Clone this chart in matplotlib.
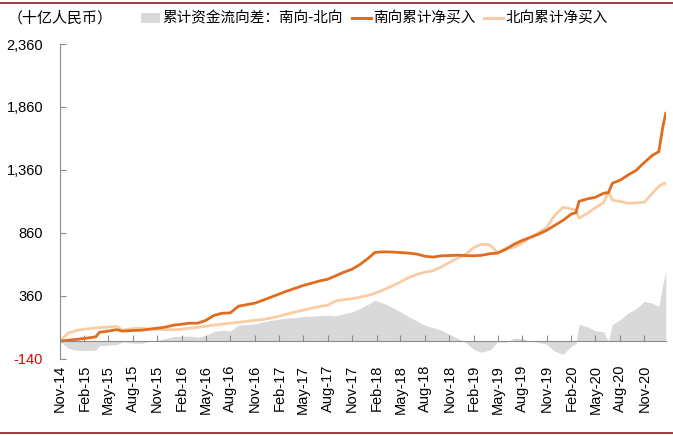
import matplotlib
matplotlib.use("Agg")
import matplotlib.pyplot as plt
import matplotlib.dates as mdates
from matplotlib.patches import Patch
from matplotlib.lines import Line2D
import numpy as np
import pandas as pd

plt.rcParams['font.family'] = ['Liberation Sans', 'Noto Sans CJK SC', 'DejaVu Sans']

# 十亿人民币
dates = ["2014-11-17", "2014-12-17", "2015-01-17", "2015-02-17", "2015-03-17",
         "2015-04-01", "2015-04-14", "2015-05-17", "2015-06-17", "2015-07-10",
         "2015-08-17", "2015-09-17", "2015-10-17", "2015-11-17", "2015-12-17",
         "2016-01-17", "2016-02-17", "2016-03-17", "2016-04-17", "2016-05-17",
         "2016-06-17", "2016-07-17", "2016-08-17", "2016-09-17", "2016-10-17",
         "2016-11-17", "2016-12-17", "2017-01-17", "2017-02-17", "2017-03-17",
         "2017-04-17", "2017-05-17", "2017-06-17", "2017-07-17", "2017-08-17",
         "2017-09-17", "2017-10-17", "2017-11-17", "2017-12-17", "2018-01-17",
         "2018-02-10", "2018-03-17", "2018-04-17", "2018-05-17", "2018-06-17",
         "2018-07-17", "2018-08-17", "2018-09-17", "2018-10-17", "2018-11-17",
         "2018-12-17", "2019-01-17", "2019-02-17", "2019-03-17", "2019-04-17",
         "2019-05-17", "2019-06-17", "2019-07-17", "2019-08-17", "2019-09-17",
         "2019-10-17", "2019-11-17", "2019-12-17", "2020-01-17", "2020-02-17",
         "2020-03-05", "2020-03-17", "2020-04-17", "2020-05-17", "2020-06-17",
         "2020-07-05", "2020-07-20", "2020-08-17", "2020-09-17", "2020-10-17",
         "2020-11-17", "2020-12-17", "2021-01-10", "2021-01-25", "2021-02-05"]

south = [0, 8, 14, 22, 30, 35, 71, 80, 92, 80,
         85, 87, 95, 103, 112, 127, 135, 143, 143, 165,
         205, 222, 225, 278, 290, 302, 325, 350, 375, 398,
         420, 442, 460, 478, 492, 520, 548, 572, 610, 660,
         705, 710, 708, 704, 700, 692, 675, 668, 678, 680,
         683, 680, 678, 682, 695, 700, 730, 770, 800, 825,
         850, 881, 920, 960, 1010, 1020, 1111, 1130, 1143, 1175,
         1180, 1255, 1278, 1320, 1357, 1420, 1476, 1505, 1700, 1810]

north = [0, 63, 85, 95, 103, 105, 108, 111, 119, 87,
         100, 103, 98, 95, 92, 90, 95, 103, 110, 120,
         128, 135, 143, 150, 158, 165, 172, 185, 200, 215,
         232, 246, 262, 275, 286, 320, 330, 338, 350, 365,
         380, 410, 440, 470, 505, 530, 548, 560, 590, 625,
         660, 690, 745, 770, 765, 705, 740, 745, 780, 826,
         860, 905, 1000, 1064, 1050, 1040, 977, 1016, 1060, 1100,
         1183, 1120, 1110, 1096, 1098, 1104, 1175, 1230, 1250, 1255]

yticks = [-140, 360, 860, 1360, 1860, 2360]

x = pd.to_datetime(dates)
s = np.array(south)
n = np.array(north)
diff = s - n

fig = plt.figure(figsize=(6.73, 4.36), dpi=100)
ax = fig.add_axes([0.089, 0.177, 0.901, 0.722])

gray = '#D9D9D9'
orange = '#DF6C1F'
peach = '#F9CCA3'

ax.fill_between(x, 0, diff, color=gray, linewidth=0)
ax.plot(x, n, color=peach, lw=2.0)
ax.plot(x, s, color=orange, lw=2.0)

ax.set_ylim(-140, 2360)
ax.set_xlim(pd.Timestamp("2014-11-17"), pd.Timestamp("2021-02-07"))
ax.set_yticks(yticks)
ax.set_yticklabels([f"{v:,}" for v in yticks])
ax.get_yticklabels()[0].set_color('#E00000')

xt = pd.date_range("2014-11-01", "2020-11-01", freq="3MS") + pd.Timedelta(days=16)
ax.set_xticks(xt)
ax.xaxis.set_major_formatter(mdates.DateFormatter('%b-%y'))

for side in ['top', 'right']:
    ax.spines[side].set_visible(False)
ax.spines['left'].set_color('#8C8C8C')
ax.spines['bottom'].set_color('#8C8C8C')
ax.spines['bottom'].set_position(('data', 0))
ax.tick_params(axis='y', direction='in', length=4, color='#8C8C8C', labelsize=10.5, pad=12)
ax.tick_params(axis='x', direction='in', length=4, color='#8C8C8C', labelsize=10.5,
               labelrotation=90, pad=17)

fig.text(0.012, 0.957, "（十亿人民币）", fontsize=10.8, family=['Noto Sans CJK SC'],
         va='center', ha='left')

handles = [Patch(facecolor=gray, edgecolor='none'),
           Line2D([], [], color=orange, lw=2.2),
           Line2D([], [], color=peach, lw=2.2)]
labels = ["累计资金流向差：南向-北向", "南向累计净买入", "北向累计净买入"]
fig.legend(handles, labels, loc='center left', bbox_to_anchor=(0.21, 0.957), ncol=3,
           frameon=False, prop={'family': 'Noto Sans CJK SC', 'size': 10.5},
           handlelength=1.3, handleheight=0.7, handletextpad=0.15, columnspacing=0.6,
           borderpad=0, borderaxespad=0)

fig.add_artist(Line2D([0, 1], [0.993, 0.993], transform=fig.transFigure, color='#8B1A1A', lw=1.2))
fig.add_artist(Line2D([0, 1], [0.007, 0.007], transform=fig.transFigure, color='#8B1A1A', lw=1.2))

fig.savefig("out.png", dpi=100)
